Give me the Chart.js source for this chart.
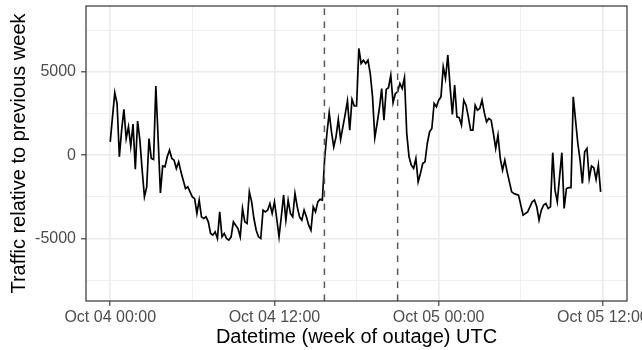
<!DOCTYPE html>
<html>
<head>
<meta charset="utf-8">
<script src="https://cdn.jsdelivr.net/npm/chart.js@4.4.0/dist/chart.umd.min.js"></script>
<style>
  html, body { margin: 0; padding: 0; background: #fff; }
  #wrap { width: 642px; height: 350px; position: relative; }
</style>
</head>
<body>
<div id="wrap"><canvas id="grafico"></canvas></div>
<script>
// one value every 10 minutes starting Oct 04 00:00 UTC
const stepMinutes = 10;
const traffic = [
  800, 2300, 3750, 3100, -100, 1500, 2750, 1000, 1700, 540,
  1870, -840, 2050, 900, -900, -2500, -1900, 1000, -200, -260,
  4150, 1000, -2270, -650, -700, -100, 300, -200, -300, -800,
  -400, -1000, -1500, -2000, -1900, -2200, -2500, -2600, -3500, -2700,
  -3700, -3800, -3700, -4000, -4700, -4800, -4600, -5000, -3400, -4900,
  -4700, -5000, -5100, -4900, -4000, -4200, -4400, -4900, -3200, -4000,
  -4100, -2200, -2800, -3800, -4500, -4900, -5000, -3300, -3400, -3300,
  -2900, -3500, -2800, -3800, -4900, -3700, -2400, -3900, -2700, -3500,
  -3700, -2300, -3100, -3700, -3900, -3300, -3700, -4200, -4500, -3100,
  -3400, -2800, -2650, -2700, -200, 1300, 2550, 1400, 500, 1100,
  2150, 950, 1700, 2450, 3250, 1500, 3350, 2950, 2950, 6400,
  5500, 5700, 5500, 5700, 4900, 3500, 1050, 1900, 2800, 4000,
  2100, 3950, 4050, 4800, 3150, 3700, 3800, 4300, 4000, 4650,
  1300, -100, -600, -800, -200, -1600, -1100, -500, -400, 700,
  1400, 1600, 3100, 2900, 3300, 3500, 5300, 4600, 6000, 4100,
  2450, 4200, 2300, 2250, 1800, 3300, 3000, 2300, 1500, 1500,
  3000, 2700, 2800, 3300, 2550, 2000, 2200, 2100, 1300, 400,
  1200, -200, -900, -300, -1000, -1600, -2200, -2300, -2350, -2400,
  -3000, -3600, -3500, -3400, -3100, -2800, -2700, -3100, -3900, -3300,
  -3000, -2900, -3200, -3100, 150, -2100, -2800, -1300, 150, -3200,
  -2000, -1950, -1950, 3500, 2100, 700, -300, -1700, 200, 400,
  -1400, -650, -750, -1450, -600, -2200
];

const xTickHours = [0, 12, 24, 36];
const xTickLabels = ["Oct 04 00:00", "Oct 04 12:00", "Oct 05 00:00", "Oct 05 12:00"];
const xMinorHours = [6, 18, 30];
const yTickValues = [-5000, 0, 5000];
const yMinorValues = [-7500, -2500, 2500, 7500];
const outageHours = [15 + 39 / 60, 21]; // start / end of outage

const fonte = "'Liberation Sans', Arial, Helvetica, sans-serif";

const pontos = traffic.map((v, i) => ({ x: i * stepMinutes / 60, y: v }));

function montaTicks(major, minor) {
  return major.map(v => ({ value: v, minor: false }))
    .concat(minor.map(v => ({ value: v, minor: true })))
    .sort((a, b) => a.value - b.value);
}

const corGrade = ctx => '#EBEBEB';
const larguraGrade = ctx => (ctx.tick && ctx.tick.minor) ? 0.8 : 1.6;
const corTick = ctx => (ctx.tick && ctx.tick.minor) ? 'rgba(0,0,0,0)' : '#333333';

// dashed outage lines + panel border
const molduraPlugin = {
  id: 'moldura',
  afterDatasetsDraw(chart) {
    const { ctx, chartArea, scales } = chart;
    ctx.save();
    ctx.strokeStyle = '#595959';
    ctx.lineWidth = 1.5;
    ctx.setLineDash([6.5, 6.5]);
    outageHours.forEach(h => {
      const px = scales.x.getPixelForValue(h);
      ctx.beginPath();
      ctx.moveTo(px, chartArea.bottom);
      ctx.lineTo(px, chartArea.top);
      ctx.stroke();
    });
    ctx.setLineDash([]);
    ctx.strokeStyle = '#333333';
    ctx.lineWidth = 1.2;
    ctx.strokeRect(chartArea.left, chartArea.top,
      chartArea.right - chartArea.left, chartArea.bottom - chartArea.top);
    ctx.restore();
  }
};

new Chart(document.getElementById('grafico').getContext('2d'), {
  type: 'line',
  data: {
    datasets: [{
      data: pontos,
      borderColor: '#000000',
      borderWidth: 1.7,
      pointRadius: 0,
      tension: 0,
      fill: false
    }]
  },
  options: {
    responsive: true,
    maintainAspectRatio: false,
    devicePixelRatio: 1,
    animation: false,
    layout: { padding: { top: 6, right: 15, left: 0, bottom: 0 } },
    plugins: {
      legend: { display: false },
      tooltip: { enabled: false }
    },
    scales: {
      x: {
        type: 'linear',
        position: 'bottom',
        min: -1.77,
        max: 37.76,
        afterBuildTicks: s => { s.ticks = montaTicks(xTickHours, xMinorHours); },
        afterFit: s => { s.height = 49; s.paddingLeft = 0; s.paddingRight = 0; },
        border: { display: false },
        grid: {
          color: corGrade,
          lineWidth: larguraGrade,
          tickColor: corTick,
          tickWidth: 1.1,
          tickLength: 5,
          drawTicks: true
        },
        ticks: {
          autoSkip: false,
          maxRotation: 0,
          minRotation: 0,
          padding: 2,
          color: '#4D4D4D',
          font: { family: fonte, size: 16 },
          callback: (value, i, ticks) => ticks[i].minor ? '' : xTickLabels[xTickHours.indexOf(value)]
        },
        title: {
          display: true,
          text: 'Datetime (week of outage) UTC',
          color: '#000000',
          font: { family: fonte, size: 20 },
          padding: { top: 0, bottom: 1 }
        }
      },
      y: {
        type: 'linear',
        position: 'left',
        min: -8750,
        max: 8950,
        afterBuildTicks: s => { s.ticks = montaTicks(yTickValues, yMinorValues); },
        afterFit: s => { s.width = 86; s.paddingTop = 0; s.paddingBottom = 0; },
        border: { display: false },
        grid: {
          color: corGrade,
          lineWidth: larguraGrade,
          tickColor: corTick,
          tickWidth: 1.1,
          tickLength: 5,
          drawTicks: true
        },
        ticks: {
          autoSkip: false,
          padding: 5,
          color: '#4D4D4D',
          font: { family: fonte, size: 16 },
          callback: (value, i, ticks) => ticks[i].minor ? '' : String(value)
        },
        title: {
          display: true,
          text: 'Traffic relative to previous week',
          color: '#000000',
          font: { family: fonte, size: 20 },
          padding: { top: 7, bottom: 0 }
        }
      }
    }
  },
  plugins: [molduraPlugin]
});
</script>
</body>
</html>
